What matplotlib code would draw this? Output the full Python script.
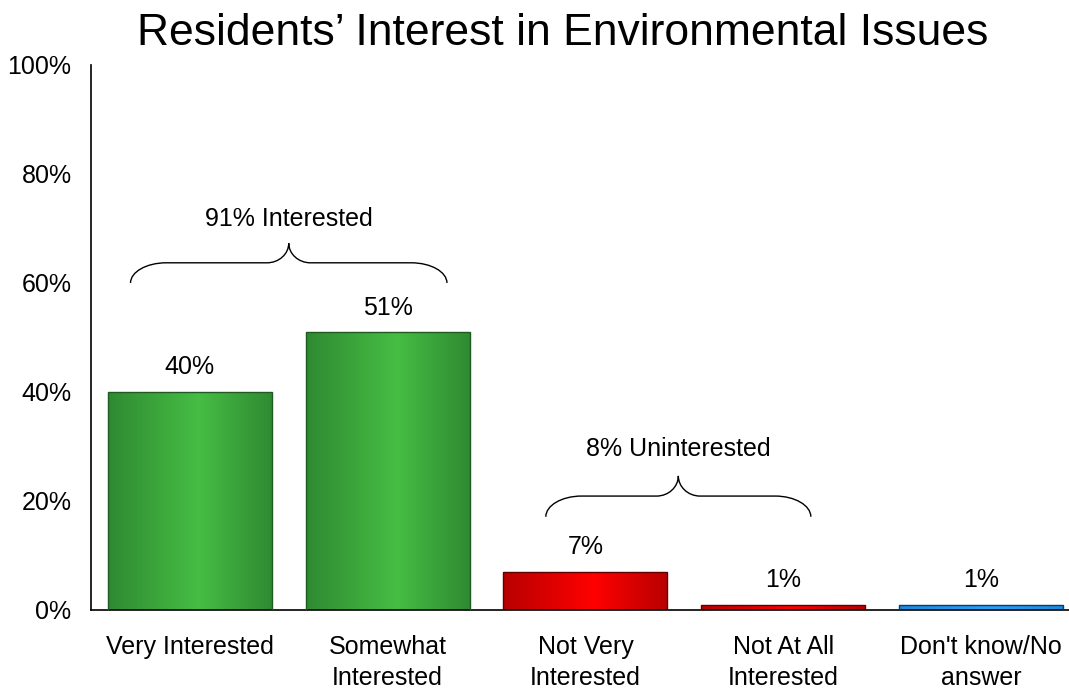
import numpy as np
import matplotlib.pyplot as plt
from matplotlib.path import Path
from matplotlib.patches import PathPatch
from matplotlib.colors import LinearSegmentedColormap

categories = ["Very Interested", "Somewhat\nInterested", "Not Very\nInterested",
              "Not At All\nInterested", "Don't know/No\nanswer"]
values = [40, 51, 7, 1, 1]
value_labels = ["40%", "51%", "7%", "1%", "1%"]
y_ticks = [0, 20, 40, 60, 80, 100]
y_tick_labels = ["0%", "20%", "40%", "60%", "80%", "100%"]
groups = [("91% Interested", 0, 1), ("8% Uninterested", 2, 3)]

# edge colour, centre colour, outline colour for each bar
bar_styles = [
    ("#2f8a32", "#46bd44", "#1f5a20"),
    ("#2f8a32", "#46bd44", "#1f5a20"),
    ("#b80000", "#ff0000", "#600000"),
    ("#b80000", "#ff0000", "#600000"),
    ("#1a8ae0", "#2aa0f8", "#0d3a66"),
]

plt.rcParams['font.family'] = ['Liberation Sans', 'DejaVu Sans']
fs = 18

fig = plt.figure(figsize=(10.69, 6.89), dpi=100)
ax = fig.add_axes([0.0851, 0.1147, 0.925, 0.791])

x = np.arange(len(categories))
width = 0.83
bars = ax.bar(x, values, width=width, color="none", linewidth=1.0, zorder=3)

# horizontal gradient fill, dark at the sides, bright in the middle
grad = np.linspace(0, 1, 256).reshape(1, -1)
for b, (edge, centre, line) in zip(bars, bar_styles):
    cmap = LinearSegmentedColormap.from_list("g", [(0, edge), (0.55, centre), (1, edge)])
    bx, by = b.get_x(), b.get_y()
    bw, bh = b.get_width(), b.get_height()
    im = ax.imshow(grad, cmap=cmap, aspect="auto", extent=[bx, bx + bw, by, by + bh],
                   zorder=2, interpolation="bicubic")
    im.set_clip_path(b)
    b.set_edgecolor(line)

for xi, v, lab in zip(x, values, value_labels):
    ax.annotate(lab, (xi, v), xytext=(0, 9), textcoords="offset points",
                ha="center", va="bottom", fontsize=fs)


def brace(ax, x0, x1, ylow, yh, ypeak, r=0.18, r2=0.11, k=0.55):
    xc = (x0 + x1) / 2
    verts = [
        (x0, ylow),
        (x0, ylow + k * (yh - ylow)), (x0 + r - k * r, yh), (x0 + r, yh),
        (xc - r2, yh),
        (xc - r2 + k * r2, yh), (xc, ypeak - k * (ypeak - yh)), (xc, ypeak),
        (xc, ypeak - k * (ypeak - yh)), (xc + r2 - k * r2, yh), (xc + r2, yh),
        (x1 - r, yh),
        (x1 - r + k * r, yh), (x1, ylow + k * (yh - ylow)), (x1, ylow),
    ]
    codes = [Path.MOVETO] + [Path.CURVE4] * 3 + [Path.LINETO] + [Path.CURVE4] * 6 \
        + [Path.LINETO] + [Path.CURVE4] * 3
    ax.add_patch(PathPatch(Path(verts, codes), fill=False, lw=1.0, color="black",
                           clip_on=False, zorder=4))


brace_pos = [(-0.30, 1.30, 60.0, 63.7, 67.3, 71.8), (1.80, 3.14, 17.1, 20.9, 24.6, 29.6)]
for (label, i0, i1), (bx0, bx1, yl, yh, yp, yt) in zip(groups, brace_pos):
    brace(ax, bx0, bx1, yl, yh, yp)
    ax.text((bx0 + bx1) / 2, yt, label, ha="center", va="center", fontsize=fs)

ax.set_xlim(-0.5, 4.5)
ax.set_ylim(0, 100)
ax.set_yticks(y_ticks)
ax.set_yticklabels(y_tick_labels, fontsize=fs)
ax.set_xticks(x)
ax.set_xticklabels(categories, fontsize=fs, linespacing=1.36)
ax.tick_params(axis="y", length=0, pad=14)
ax.tick_params(axis="x", length=0, pad=18)
for s in ["top", "right"]:
    ax.spines[s].set_visible(False)
for s in ["left", "bottom"]:
    ax.spines[s].set_linewidth(1.2)

fig.text(0.526, 0.952, "Residents\u2019 Interest in Environmental Issues",
         ha="center", va="center", fontsize=32)

fig.savefig("out.png", dpi=100)
